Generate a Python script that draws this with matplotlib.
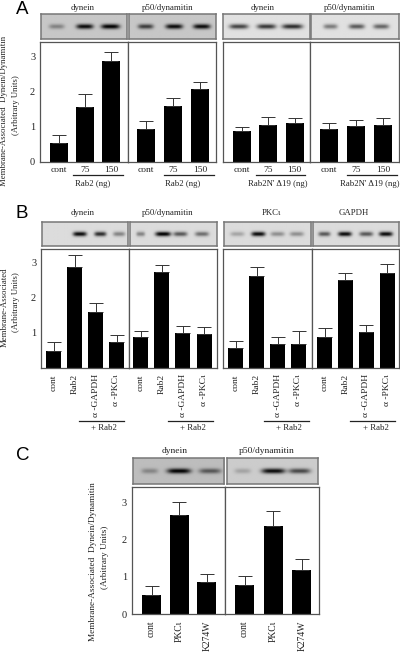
import numpy as np
import matplotlib
matplotlib.use('Agg')
import matplotlib.pyplot as plt

plt.rcParams['font.family'] = ['Liberation Serif', 'DejaVu Serif']

W, H = 400, 652

# bar heights and upper error bar ends
a_labels = ['cont', '75', '150']
a_dynein = [0.52, 1.55, 2.88]
a_dynein_err = [0.76, 1.94, 3.12]
a_p50 = [0.92, 1.59, 2.08]
a_p50_err = [1.15, 1.81, 2.27]
a_n_dynein = [0.87, 1.03, 1.10]
a_n_dynein_err = [1.00, 1.28, 1.24]
a_n_p50 = [0.93, 1.01, 1.04]
a_n_p50_err = [1.11, 1.18, 1.24]

b_labels = ['cont', 'Rab2', 'α -GAPDH', 'α -PKCι']
b_dynein = [0.50, 2.89, 1.59, 0.74]
b_dynein_err = [0.74, 3.22, 1.85, 0.94]
b_p50 = [0.90, 2.73, 1.00, 0.98]
b_p50_err = [1.06, 2.95, 1.19, 1.17]
b_pkc = [0.57, 2.64, 0.68, 0.70]
b_pkc_err = [0.76, 2.89, 0.89, 1.06]
b_gapdh = [0.90, 2.50, 1.04, 2.70]
b_gapdh_err = [1.14, 2.71, 1.23, 2.96]

c_labels = ['cont', 'PKCι', 'K274W']
c_dynein = [0.51, 2.65, 0.87]
c_dynein_err = [0.75, 3.00, 1.09]
c_p50 = [0.79, 2.37, 1.18]
c_p50_err = [1.04, 2.78, 1.47]

# blot bands: centre across the strip, darkness, width
blot_a = [[(0.18, 0.35, 0.09), (0.51, 0.95, 0.10), (0.81, 1.0, 0.11)],
          [(0.19, 0.7, 0.09), (0.52, 0.95, 0.10), (0.84, 0.95, 0.10)],
          [(0.18, 0.7, 0.11), (0.50, 0.75, 0.11), (0.80, 0.8, 0.12)],
          [(0.22, 0.45, 0.08), (0.52, 0.6, 0.09), (0.80, 0.55, 0.09)]]
blot_b = [[(0.44, 0.95, 0.08), (0.68, 0.8, 0.07), (0.90, 0.4, 0.07)],
          [(0.12, 0.4, 0.05), (0.38, 1.0, 0.09), (0.58, 0.6, 0.08), (0.83, 0.5, 0.08)],
          [(0.15, 0.25, 0.08), (0.39, 0.95, 0.08), (0.61, 0.35, 0.08), (0.83, 0.35, 0.08)],
          [(0.13, 0.6, 0.07), (0.37, 0.95, 0.08), (0.62, 0.6, 0.08), (0.85, 0.95, 0.08)]]
blot_c = [[(0.18, 0.3, 0.09), (0.50, 1.0, 0.13), (0.84, 0.55, 0.12)],
          [(0.17, 0.2, 0.09), (0.51, 0.95, 0.13), (0.80, 0.65, 0.12)]]


def px_axes(x0, y0, x1, y1):
    return fig.add_axes([x0 / W, 1 - y1 / H, (x1 - x0) / W, (y1 - y0) / H])


def px_text(x, y, s, size=6.3, **kw):
    kw.setdefault('ha', 'center')
    kw.setdefault('va', 'center')
    kw.setdefault('color', '#222222')
    fig.text(x / W, 1 - y / H, s, fontsize=size, **kw)


def px_line(x0, x1, y):
    fig.add_artist(plt.Line2D([x0 / W, x1 / W], [1 - y / H, 1 - y / H], color='#222222', lw=0.9))


def blot(box, bands, bg=0.80):
    ax = px_axes(*box)
    xx = np.linspace(0, 1, 130)
    yy = np.linspace(0, 1, 40)
    img = np.full((40, 130), bg)
    for c, dark, w in bands:
        img -= dark * bg * np.exp(-((xx - c) / w) ** 4)[None, :] * np.exp(-((yy - 0.5) / 0.10) ** 2)[:, None]
    ax.imshow(img, cmap='gray', vmin=0, vmax=1, aspect='auto', interpolation='bilinear')
    ax.set_xticks([])
    ax.set_yticks([])
    for s in ax.spines.values():
        s.set_color('#777777')
        s.set_linewidth(1.1)


def bars(box, first, step, width, vals, tops, ymax, labels=None, show_y=False, yticks=(1, 2, 3),
         rotate=False, label_size=6.8):
    x0, y0, x1, y1 = box
    ax = px_axes(*box)
    x = np.arange(len(vals))
    ax.bar(x, vals, width=width / step, color='black')
    err = np.array(tops) - np.array(vals)
    ax.errorbar(x, vals, yerr=[np.zeros(len(vals)), err], fmt='none', ecolor='#333333',
                elinewidth=0.7, capsize=5, capthick=0.7)
    ax.set_xlim((x0 - first) / step, (x1 - first) / step)
    ax.set_ylim(0, ymax)
    ax.set_xticks(x)
    if rotate:
        ax.set_xticklabels(labels, rotation=90, fontsize=label_size, color='#222222', va='top')
        ax.tick_params(axis='x', length=0, pad=4.5)
    else:
        ax.set_xticklabels(labels, fontsize=label_size, color='#222222')
        ax.tick_params(axis='x', length=0, pad=3)
    ax.set_yticks(list(yticks))
    ax.tick_params(axis='y', length=0, pad=3.5, labelsize=7.4, labelleft=show_y, labelcolor='#222222')
    for s in ax.spines.values():
        s.set_color('#555555')
        s.set_linewidth(0.9)
    return ax


fig = plt.figure(figsize=(W / 100, H / 100), dpi=100)

# Panel A
for i, (x0, x1) in enumerate([(41, 127), (129, 216), (223, 310), (311, 399)]):
    blot((x0, 14, x1, 39), blot_a[i], bg=0.78 if i < 2 else 0.88)
ymax_a = (161.5 - 42) / 35
bars((40, 42, 128, 161.5), 59, 26, 18, a_dynein, a_dynein_err, ymax_a, a_labels, True, (0, 1, 2, 3))
bars((128, 42, 216, 161.5), 146, 27, 18, a_p50, a_p50_err, ymax_a, a_labels)
bars((222.5, 42, 310, 161.5), 241.5, 26.5, 18, a_n_dynein, a_n_dynein_err, ymax_a, a_labels)
bars((310, 42, 399, 161.5), 329, 27, 18, a_n_p50, a_n_p50_err, ymax_a, a_labels)
for x, s in [(83, 'dynein'), (168, 'p50/dynamitin'), (263, 'dynein'), (350, 'p50/dynamitin')]:
    px_text(x, 8, s)
for x, s in [(93, 'Rab2 (ng)'), (183, 'Rab2 (ng)'), (278, "Rab2N' Δ19 (ng)"), (370, "Rab2N' Δ19 (ng)")]:
    px_text(x, 184, s)
for x0, x1 in [(73, 123), (164, 214), (256, 305), (347, 397)]:
    px_line(x0, x1, 175)
px_text(4.5, 111, 'Membrane-Associated  Dynein/Dynamitin', size=6.3, rotation=90)
px_text(16, 105, '(Arbitrary Units)', rotation=90)
px_text(22, 9.5, 'A', size=13.5, family='Liberation Sans', color='black')

# Panel B
for i, (x0, x1) in enumerate([(42, 128), (130, 217), (224, 311), (313, 399)]):
    blot((x0, 222, x1, 246), blot_b[i], bg=0.86)
ymax_b = (368 - 249) / 35
bars((41, 249, 128.7, 368), 53.5, 21, 15, b_dynein, b_dynein_err, ymax_b, b_labels, True, rotate=True)
bars((128.7, 249, 216.7, 368), 140.5, 21.2, 15, b_p50, b_p50_err, ymax_b, b_labels, rotate=True)
bars((223.3, 249, 311.7, 368), 235.5, 21, 15, b_pkc, b_pkc_err, ymax_b, b_labels, rotate=True)
bars((311.7, 249, 399, 368), 324.5, 20.9, 15, b_gapdh, b_gapdh_err, ymax_b, b_labels, rotate=True)
for x, s in [(83, 'dynein'), (168, 'p50/dynamitin'), (271, 'PKCι'), (354, 'GAPDH')]:
    px_text(x, 213, s)
for x, s in [(104, '+ Rab2'), (193, '+ Rab2'), (289, '+ Rab2'), (376, '+ Rab2')]:
    px_text(x, 428, s)
for x0, x1 in [(79, 124), (168, 213), (264, 309), (350, 395)]:
    px_line(x0, x1, 421)
px_text(4.5, 307, 'Membrane-Associated', rotation=90)
px_text(16.5, 302, '(Arbitrary Units)', rotation=90)
px_text(22, 214, 'B', size=13.5, family='Liberation Sans', color='black')

# Panel C
blot((133, 458, 224, 484), blot_c[0], bg=0.74)
blot((227, 458, 318, 484), blot_c[1], bg=0.80)
ymax_c = (614.3 - 487.3) / 37.3
bars((131.7, 487.3, 225.3, 614.3), 151.5, 27.6, 19, c_dynein, c_dynein_err, ymax_c, c_labels, True, (0, 1, 2, 3),
     rotate=True, label_size=6.9)
bars((225.3, 487.3, 318.7, 614.3), 244.5, 28.7, 19, c_p50, c_p50_err, ymax_c, c_labels, rotate=True, label_size=6.9)
px_text(175, 451, 'dynein', size=6.8)
px_text(267, 451, 'p50/dynamitin', size=6.8)
px_text(93, 562, 'Membrane-Associated  Dynein/Dynamitin', size=6.7, rotation=90)
px_text(105, 557, '(Arbitrary Units)', size=6.7, rotation=90)
px_text(23, 456, 'C', size=13.5, family='Liberation Sans', color='black')

plt.savefig('out.png', dpi=100)
